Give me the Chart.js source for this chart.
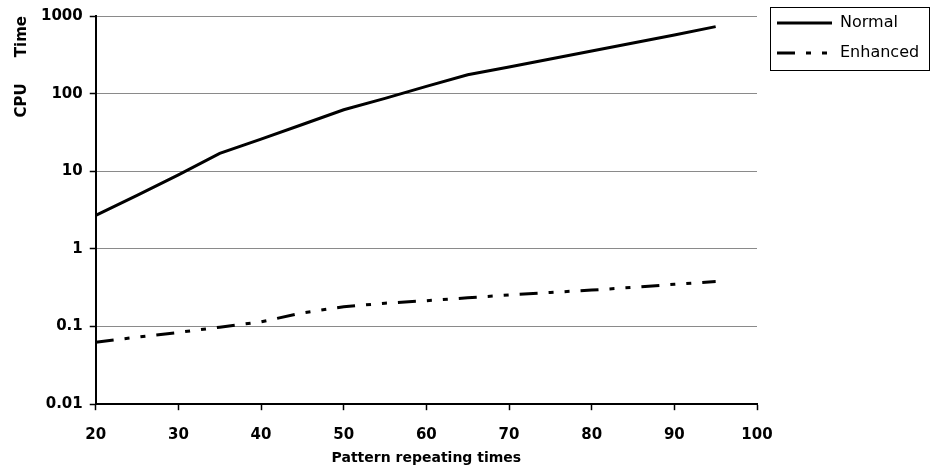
<!DOCTYPE html>
<html>
<head>
<meta charset="utf-8">
<script src="https://cdn.jsdelivr.net/npm/chart.js@4/dist/chart.umd.min.js"></script>
<style>
  html, body { margin: 0; padding: 0; background: #fff; }
  #wrap { width: 931px; height: 469px; }
</style>
</head>
<body>
<div id="wrap"><canvas id="c" width="931" height="469"></canvas></div>
<script>
const repeats = [20, 25, 30, 35, 40, 45, 50, 55, 60, 65, 70, 75, 80, 85, 90, 95];
const normalTime = [2.7, 4.9, 9.0, 17, 26, 40, 62, 87, 124, 175, 220, 280, 355, 450, 570, 730];
const enhancedTime = [0.063, 0.073, 0.084, 0.098, 0.115, 0.15, 0.18, 0.2, 0.215, 0.235, 0.255, 0.275, 0.295, 0.32, 0.35, 0.38];
const xTicks = [20, 30, 40, 50, 60, 70, 80, 90, 100];
const yTicks = [0.01, 0.1, 1, 10, 100, 1000];
const yTickLabels = ['0.01', '0.1', '1', '10', '100', '1000'];

const LEGEND_W = 174;
const legendFix = {
  id: 'legendFix',
  afterInit(chart) {
    const lg = chart.legend;
    if (!lg) return;
    const orig = lg.fit.bind(lg);
    lg.fit = function () { orig(); this.width = LEGEND_W; };
  },
  afterLayout(chart) {
    const lg = chart.legend;
    if (!lg) return;
    const pad = lg.options.labels.padding;
    lg.left = chart.chartArea.right + 20 - pad;
    lg.right = chart.width;
    lg.top = 1;
  },
  afterDraw(chart) {
    const lg = chart.legend;
    if (!lg) return;
    const ctx = chart.ctx;
    const pad = lg.options.labels.padding;
    const x0 = Math.round(lg.left + pad - 7) + 0.5;
    const x1 = chart.width - 1.5;
    const y0 = Math.round(lg.top + 6) + 0.5;
    const y1 = Math.round(lg.top + 69) + 0.5;
    ctx.save();
    ctx.strokeStyle = '#000';
    ctx.lineWidth = 1;
    ctx.setLineDash([]);
    ctx.strokeRect(x0, y0, x1 - x0, y1 - y0);
    ctx.restore();
  }
};

new Chart(document.getElementById('c'), {
  type: 'line',
  data: {
    labels: repeats,
    datasets: [
      {
        label: 'Normal',
        data: repeats.map((x, i) => ({ x: x, y: normalTime[i] })),
        borderColor: '#000',
        backgroundColor: '#000',
        borderWidth: 3,
        pointRadius: 0,
        tension: 0,
        fill: false
      },
      {
        label: 'Enhanced',
        data: repeats.map((x, i) => ({ x: x, y: enhancedTime[i] })),
        borderColor: '#000',
        backgroundColor: '#000',
        borderWidth: 3,
        borderDash: [18, 11, 5, 11, 5, 11],
        pointRadius: 0,
        tension: 0,
        fill: false
      }
    ]
  },
  options: {
    responsive: false,
    animation: false,
    devicePixelRatio: 1,
    layout: { padding: { left: 13, top: 3, right: 0, bottom: 2 } },
    plugins: {
      tooltip: { enabled: false },
      legend: {
        position: 'right',
        align: 'start',
        labels: {
          usePointStyle: true,
          pointStyle: 'line',
          boxWidth: 55,
          pointStyleWidth: 55,
          color: '#000',
          padding: 14,
          font: { family: 'DejaVu Sans', size: 16 },
          generateLabels: (chart) => {
            const items = Chart.defaults.plugins.legend.labels.generateLabels(chart);
            items.forEach((it) => {
              const ds = chart.data.datasets[it.datasetIndex];
              it.lineDash = ds.borderDash || [];
              it.lineWidth = 3;
              it.strokeStyle = '#000';
            });
            return items;
          }
        }
      }
    },
    scales: {
      x: {
        type: 'linear',
        min: 20,
        max: 100,
        afterBuildTicks: (axis) => { axis.ticks = xTicks.map(v => ({ value: v })); },
        grid: {
          drawOnChartArea: false,
          drawTicks: true,
          tickLength: 6,
          tickColor: '#000',
          tickWidth: 1.5
        },
        border: { display: true, color: '#000', width: 2 },
        ticks: {
          color: '#000',
          padding: 16,
          maxRotation: 0,
          font: { family: 'DejaVu Sans', size: 15, weight: 'bold' }
        },
        title: {
          display: true,
          text: 'Pattern repeating times',
          color: '#000',
          padding: { top: -10, bottom: 0 },
          font: { family: 'DejaVu Sans', size: 14, weight: 'bold' }
        }
      },
      y: {
        type: 'logarithmic',
        min: 0.01,
        max: 1000,
        afterBuildTicks: (axis) => { axis.ticks = yTicks.map(v => ({ value: v })); },
        grid: {
          drawOnChartArea: true,
          color: '#8a8a8a',
          lineWidth: 1,
          borderDash: [1, 4],
          tickLength: 6,
          tickColor: '#000',
          tickWidth: 1.5,
          tickBorderDash: []
        },
        border: { display: true, color: '#000', width: 2 },
        ticks: {
          color: '#000',
          padding: 7,
          font: { family: 'DejaVu Sans', size: 15, weight: 'bold' },
          callback: (v) => {
            const i = yTicks.indexOf(v);
            return i >= 0 ? yTickLabels[i] : '';
          }
        },
        title: {
          display: true,
          text: 'CPU     Time',
          align: 'end',
          color: '#000',
          padding: { top: 0, bottom: 3 },
          font: { family: 'DejaVu Sans', size: 15, weight: 'bold' }
        }
      }
    }
  },
  plugins: [legendFix]
});
</script>
</body>
</html>
